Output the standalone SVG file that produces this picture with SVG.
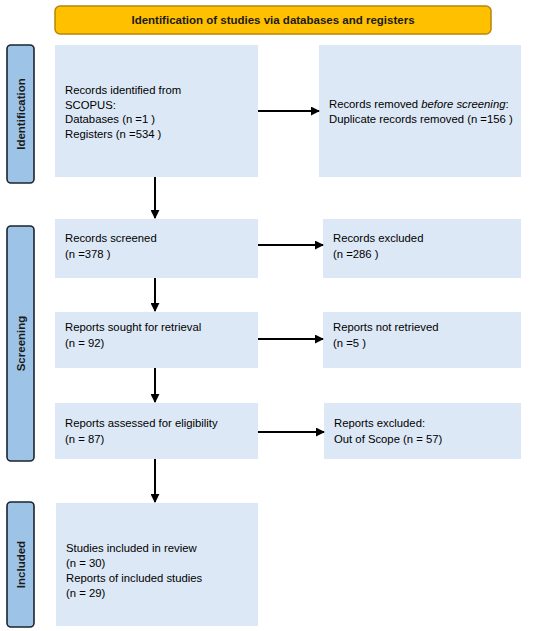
<svg xmlns="http://www.w3.org/2000/svg" width="550" height="631" viewBox="0 0 550 631">
<style>
.box{fill:#dce8f5;}
.side{fill:#9dc3e6;stroke:#1a2430;stroke-width:1.6;}
.t{font-family:"Liberation Sans",Arial,sans-serif;font-size:11.3px;fill:#000;}
.sl{font-family:"Liberation Sans",Arial,sans-serif;font-size:11.5px;font-weight:bold;fill:#1a1a1a;}
.c{stroke:#000;stroke-width:2;fill:none;marker-end:url(#ah);}
</style>
<defs>
<marker id="ah" viewBox="0 0 10 10" refX="9" refY="5" markerWidth="4.5" markerHeight="4.5" orient="auto" markerUnits="strokeWidth">
<path d="M0,0 L10,5 L0,10 z" fill="#000"/>
</marker>
</defs>
<rect width="550" height="631" fill="#fff"/>
<g id="header">
<rect x="55" y="6" width="436" height="28" rx="5" fill="#ffc000" stroke="#b8860b" stroke-width="1.5"/>
<text class="sl" x="273" y="24" text-anchor="middle">Identification of studies via databases and registers</text>
</g>
<g id="phase-identification">
<rect class="side" x="7" y="45" width="27" height="138" rx="4"/>
<text class="sl" transform="translate(24.5,114) rotate(-90)" text-anchor="middle">Identification</text>
</g>
<g id="phase-screening">
<rect class="side" x="7" y="226" width="27" height="235" rx="4"/>
<text class="sl" transform="translate(24.5,343.5) rotate(-90)" text-anchor="middle">Screening</text>
</g>
<g id="phase-included">
<rect class="side" x="7" y="502" width="27" height="125" rx="4"/>
<text class="sl" transform="translate(24.5,564.5) rotate(-90)" text-anchor="middle">Included</text>
</g>
<g id="identified">
<rect class="box" x="55" y="45" width="203" height="132"/>
<text class="t" x="65" y="94">Records identified from</text>
<text class="t" x="65" y="108.5">SCOPUS:</text>
<text class="t" x="65" y="123">Databases (n =1 )</text>
<text class="t" x="65" y="138">Registers (n =534 )</text>
</g>
<g id="removed">
<rect class="box" x="319" y="45" width="202" height="132"/>
<text class="t" x="329" y="108">Records removed <tspan font-style="italic">before screening</tspan>:</text>
<text class="t" x="329" y="123">Duplicate records removed  (n =156 )</text>
</g>
<g id="screened">
<rect class="box" x="55" y="219" width="203" height="59"/>
<text class="t" x="65" y="242">Records screened</text>
<text class="t" x="65" y="258">(n =378 )</text>
</g>
<g id="excluded">
<rect class="box" x="323" y="219" width="198" height="59"/>
<text class="t" x="333" y="242">Records excluded</text>
<text class="t" x="333" y="258">(n =286 )</text>
</g>
<g id="sought">
<rect class="box" x="55" y="312" width="203" height="56"/>
<text class="t" x="65" y="331">Reports sought for retrieval</text>
<text class="t" x="65" y="347">(n = 92)</text>
</g>
<g id="notretrieved">
<rect class="box" x="323" y="312" width="198" height="56"/>
<text class="t" x="333" y="331">Reports not retrieved</text>
<text class="t" x="333" y="347">(n =5 )</text>
</g>
<g id="assessed">
<rect class="box" x="55" y="403" width="203" height="56"/>
<text class="t" x="65" y="427">Reports assessed for eligibility</text>
<text class="t" x="65" y="443">(n = 87)</text>
</g>
<g id="reportsexcluded">
<rect class="box" x="324" y="403" width="197" height="56"/>
<text class="t" x="334" y="427">Reports excluded:</text>
<text class="t" x="334" y="443">Out of Scope (n = 57)</text>
</g>
<g id="included">
<rect class="box" x="56" y="503" width="202" height="123"/>
<text class="t" x="66" y="552">Studies included in review</text>
<text class="t" x="66" y="567">(n = 30)</text>
<text class="t" x="66" y="582">Reports of included studies</text>
<text class="t" x="66" y="597">(n = 29)</text>
</g>
<g id="connectors">
<line class="c" x1="258" y1="111" x2="319" y2="111"/>
<line class="c" x1="155" y1="177" x2="155" y2="218"/>
<line class="c" x1="258" y1="245" x2="323" y2="245"/>
<line class="c" x1="155" y1="278" x2="155" y2="311"/>
<line class="c" x1="258" y1="339" x2="323" y2="339"/>
<line class="c" x1="155" y1="368" x2="155" y2="402"/>
<line class="c" x1="258" y1="432" x2="324" y2="432"/>
<line class="c" x1="155" y1="459" x2="155" y2="502"/>
</g>
</svg>
